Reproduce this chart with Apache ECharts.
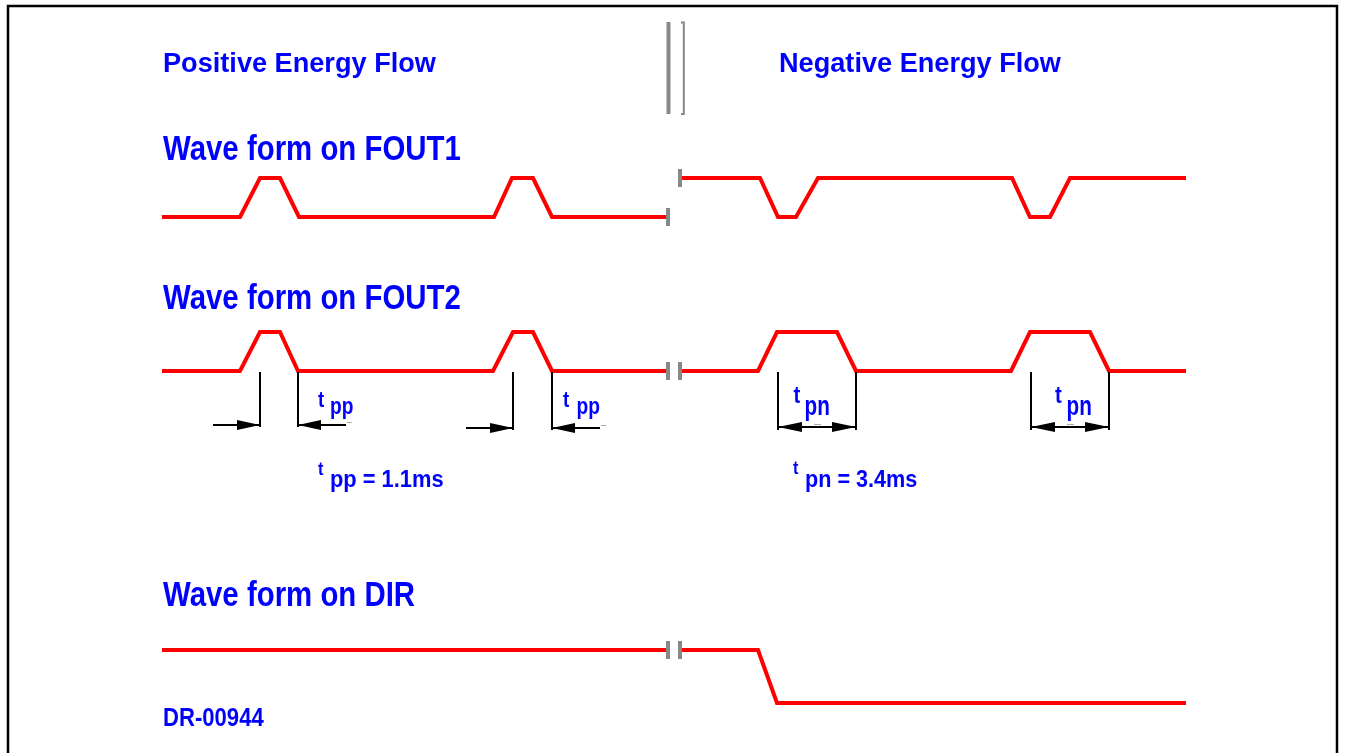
<!DOCTYPE html>
<html>
<head>
<meta charset="utf-8">
<script src="https://cdn.jsdelivr.net/npm/echarts@6/dist/echarts.min.js"></script>
<style>html,body{margin:0;padding:0;background:#fff}#c{width:1346px;height:753px}</style>
</head>
<body>
<div id="c"></div>
<script>
// Waveform breakpoints: [time position, logic level]
const fout1Left  = [[162,0],[240,0],[260,1],[280,1],[299,0],[494,0],[512,1],[533,1],[552,0],[668,0]];
const fout1Right = [[680,1],[760,1],[778,0],[796,0],[818,1],[1012,1],[1030,0],[1050,0],[1070,1],[1186,1]];
const fout2Left  = [[162,0],[240,0],[260,1],[280,1],[298,0],[493,0],[513,1],[533,1],[552,0],[668,0]];
const fout2Right = [[680,0],[758,0],[777,1],[837,1],[856,0],[1011,0],[1030,1],[1090,1],[1109,0],[1186,0]];
const dirLeft    = [[162,1],[668,1]];
const dirRight   = [[680,1],[758,1],[777,0],[1186,0]];
// Break markers [position, level]
const fout1Breaks = [[668,0],[680,1]];
const fout2Breaks = [[668,0],[680,0]];
const dirBreaks   = [[668,1],[680,1]];
// Dimension markers [start, end]
const tppDims = [[260,298],[513,552]];
const tpnDims = [[778,856],[1031,1109]];
// Texts
const headLeft = 'Positive Energy Flow';
const headRight = 'Negative Energy Flow';
const waveTitles = ['Wave form on FOUT1','Wave form on FOUT2','Wave form on DIR'];
const tppValue = 'pp = 1.1ms';
const tpnValue = 'pn = 3.4ms';
const docId = 'DR-00944';

const RED = '#ff0000', BLUE = '#0000ff', GRAY = '#888888';
const chart = echarts.init(document.getElementById('c'), null, {renderer:'canvas'});

const grids = [
  {left:0, right:0, top:178, height:39},
  {left:0, right:0, top:332, height:39},
  {left:0, right:0, top:650, height:53}
];
function lineSeries(g, data){
  return {type:'line', xAxisIndex:g, yAxisIndex:g, data, symbol:'none', silent:true, z:3,
    lineStyle:{color:RED, width:4, join:'miter'}};
}
function breakSeries(g, data){
  return {type:'custom', xAxisIndex:g, yAxisIndex:g, data, encode:{x:0,y:1}, clip:false, silent:true, z:4,
    renderItem(params, api){
      const p = api.coord([api.value(0), api.value(1)]);
      return {type:'line', shape:{x1:p[0], y1:p[1]-9, x2:p[0], y2:p[1]+9}, style:{stroke:GRAY, lineWidth:4}};
    }};
}
function tppSeries(){
  return {type:'custom', xAxisIndex:1, yAxisIndex:1, data:tppDims.map(d=>[d[0],d[1],0]), encode:{x:[0,1],y:2}, clip:false, silent:true, z:5,
    renderItem(params, api){
      const a = api.coord([api.value(0), 0]);
      const b = api.coord([api.value(1), 0]);
      const y0 = a[1] + 1, ay = a[1] + 54 + params.dataIndex*3;
      const st = {stroke:'#000', lineWidth:2};
      return {type:'group', children:[
        {type:'line', shape:{x1:a[0], y1:y0, x2:a[0], y2:ay+2}, style:st},
        {type:'line', shape:{x1:b[0], y1:y0, x2:b[0], y2:ay+2}, style:st},
        {type:'line', shape:{x1:a[0]-47, y1:ay, x2:a[0], y2:ay}, style:st},
        {type:'polygon', shape:{points:[[a[0],ay],[a[0]-23,ay-5],[a[0]-23,ay+5]]}, style:{fill:'#000'}},
        {type:'line', shape:{x1:b[0], y1:ay, x2:b[0]+48, y2:ay}, style:st},
        {type:'polygon', shape:{points:[[b[0],ay],[b[0]+23,ay-5],[b[0]+23,ay+5]]}, style:{fill:'#000'}},
        {type:'line', shape:{x1:b[0]+49, y1:ay-2.5, x2:b[0]+54, y2:ay-2.5}, style:{stroke:'#aaa', lineWidth:1}}
      ]};
    }};
}
function tpnSeries(){
  return {type:'custom', xAxisIndex:1, yAxisIndex:1, data:tpnDims.map(d=>[d[0],d[1],0]), encode:{x:[0,1],y:2}, clip:false, silent:true, z:5,
    renderItem(params, api){
      const a = api.coord([api.value(0), 0]);
      const b = api.coord([api.value(1), 0]);
      const y0 = a[1] + 1, ay = a[1] + 56;
      const st = {stroke:'#000', lineWidth:2};
      return {type:'group', children:[
        {type:'line', shape:{x1:a[0], y1:y0, x2:a[0], y2:ay+3}, style:st},
        {type:'line', shape:{x1:b[0], y1:y0, x2:b[0], y2:ay+3}, style:st},
        {type:'line', shape:{x1:a[0], y1:ay, x2:b[0], y2:ay}, style:st},
        {type:'polygon', shape:{points:[[a[0],ay],[a[0]+24,ay-5],[a[0]+24,ay+5]]}, style:{fill:'#000'}},
        {type:'polygon', shape:{points:[[b[0],ay],[b[0]-24,ay-5],[b[0]-24,ay+5]]}, style:{fill:'#000'}},
        {type:'line', shape:{x1:(a[0]+b[0])/2-3, y1:ay-2.5, x2:(a[0]+b[0])/2+4, y2:ay-2.5}, style:{stroke:'#aaa', lineWidth:1}}
      ]};
    }};
}
function txt(text, x, y, size, sx){
  return {type:'text', x, y, scaleX:sx||1, originX:0, originY:0, silent:true, z:10,
    style:{text, fill:BLUE, fontSize:size, fontWeight:'bold', fontFamily:'"Liberation Sans", Arial, sans-serif', align:'left', verticalAlign:'middle'}};
}

const graphic = [
  {type:'rect', shape:{x:8, y:6, width:1329, height:800}, style:{fill:'transparent', stroke:'#000', lineWidth:2.5}, silent:true},
  {type:'rect', shape:{x:666.5, y:22, width:4, height:92}, style:{fill:GRAY}, silent:true},
  {type:'polyline', shape:{points:[[681,22.5],[683.8,22.5],[683.8,114],[681,114]]}, style:{stroke:GRAY, lineWidth:2, fill:null}, silent:true},
  txt(headLeft, 163, 65, 27, 1.005),
  txt(headRight, 779, 65, 27, 1.005),
  txt(waveTitles[0], 163, 150, 35, 0.84),
  txt(waveTitles[1], 163, 299, 35, 0.84),
  txt(waveTitles[2], 163, 596, 35, 0.84),
  txt(docId, 163, 719, 26, 0.85),
  // tpp labels near dimensions
  txt('t', 318, 401, 22, 0.85), txt('pp', 330, 407, 24, 0.8),
  txt('t', 563, 401, 22, 0.85), txt('pp', 576.5, 407, 24, 0.8),
  // tpn labels near dimensions
  txt('t', 793.5, 396.5, 24, 0.85), txt('pn', 804.5, 407.5, 28, 0.74),
  txt('t', 1055, 396.5, 24, 0.85), txt('pn', 1066.5, 407.5, 28, 0.74),
  // value labels
  txt('t', 318, 470, 18, 0.9), txt(tppValue, 330, 480.5, 23, 0.95),
  txt('t', 793, 469.5, 18, 0.9), txt(tpnValue, 805, 480.5, 23, 0.94)
];

chart.setOption({
  animation:false,
  backgroundColor:'#fff',
  grid:grids,
  xAxis:[0,1,2].map(i=>({type:'value', gridIndex:i, min:0, max:1346, show:false})),
  yAxis:[0,1,2].map(i=>({type:'value', gridIndex:i, min:0, max:1, show:false})),
  series:[
    lineSeries(0, fout1Left), lineSeries(0, fout1Right),
    lineSeries(1, fout2Left), lineSeries(1, fout2Right),
    lineSeries(2, dirLeft), lineSeries(2, dirRight),
    breakSeries(0, fout1Breaks), breakSeries(1, fout2Breaks), breakSeries(2, dirBreaks),
    tppSeries(), tpnSeries()
  ],
  graphic
});
</script>
</body>
</html>
